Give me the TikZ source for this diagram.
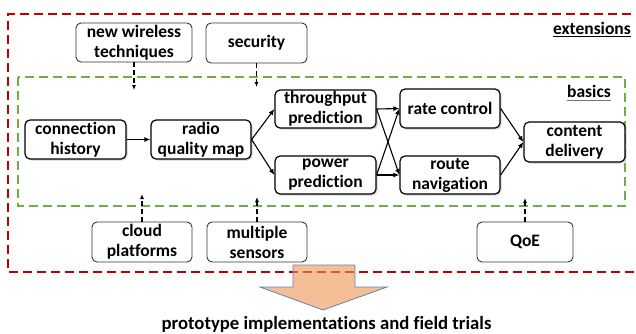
\documentclass[tikz,border=0pt]{standalone}
\usepackage{fontspec}
\setmainfont{Carlito}[Ligatures=NoCommon]
\usetikzlibrary{arrows.meta,shadows,calc}
\definecolor{extred}{HTML}{C00000}
\definecolor{basegreen}{HTML}{70AD47}
\definecolor{peach}{RGB}{237,147,80}
\definecolor{arrowblue}{HTML}{5B86B8}

\begin{document}
\begin{tikzpicture}[x=1pt,y=-1pt,
  font=\fontsize{17.5}{20}\selectfont\bfseries,
  box/.style={draw, rounded corners=5pt, align=center, inner sep=0pt},
  basebox/.style={box, draw=black, line width=1.2pt, fill=white,
    drop shadow={opacity=0.35, shadow xshift=1.5pt, shadow yshift=-1.5pt}},
  extbox/.style={box, draw=black!80, line width=0.9pt, fill=white},
  flow/.style={-{Latex[length=6pt,width=5pt]}, line width=1.1pt},
  feed/.style={-{Latex[length=5pt,width=4pt]}, line width=1.1pt, dash pattern=on 5pt off 3pt},
  frame/.style={line width=2pt, dash pattern=on 9pt off 5pt}]

\useasboundingbox (0,0) rectangle (636,333);

% outer "extensions" frame (open on the right) and inner "basics" frame
\draw[frame, extred] (645,14) -- (8,14) -- (8,272) -- (645,272);
\draw[frame, basegreen] (18,77) rectangle (625,206);

% big arrow towards the trials
\draw[arrowblue, line width=0.8pt, fill=peach, fill opacity=0.6]
  (293,265) -- (355,265) -- (355,287) -- (387,287) -- (323,310)
  -- (260,287) -- (293,287) -- cycle;

% basic pipeline
\node[basebox, minimum width=101pt, minimum height=39pt] (ch) at (75.5,139.5) {connection\\history};
\node[basebox, minimum width=100pt, minimum height=39pt] (rq) at (201,139.5) {radio\\quality map};
\node[basebox, minimum width=101pt, minimum height=38pt] (tp) at (325.5,109) {throughput\\prediction};
\node[basebox, minimum width=101pt, minimum height=38pt] (pp) at (325.5,175) {power\\prediction};
\node[basebox, minimum width=100pt, minimum height=39pt] (rc) at (450,108.5) {rate control};
\node[basebox, minimum width=100pt, minimum height=38pt] (rn) at (450,175) {route\\navigation};
\node[basebox, minimum width=101pt, minimum height=40pt] (cd) at (574.5,142) {content\\delivery};

% extensions
\node[extbox, minimum width=116pt, minimum height=39pt] (nw) at (134,42.5) {new wireless\\techniques};
\node[extbox, minimum width=101pt, minimum height=40pt] (sec) at (256.5,43) {security};
\node[extbox, minimum width=100pt, minimum height=40pt] (cp) at (142,242) {cloud\\platforms};
\node[extbox, minimum width=100pt, minimum height=40pt] (ms) at (257,242) {multiple\\sensors};
\node[extbox, minimum width=96pt, minimum height=40pt] (qoe) at (525,242) {QoE};

% pipeline connectors
\draw[flow] (ch) -- (rq);
\draw[flow] (rq.east) -- (tp.west);
\draw[flow] (rq.east) -- (pp.west);
\draw[flow] (tp.east) -- (rc.west);
\draw[flow] (tp.east) -- (rn.west);
\draw[flow] (pp.east) -- (rc.west);
\draw[flow] (pp.east) -- (rn.west);
\draw[flow] (rc.east) -- (cd.west);
\draw[flow] (rn.east) -- (cd.west);

% extension feeds into the basics
\coordinate (nwend) at (134,90);
\coordinate (secend) at (256.5,87);
\coordinate (cpend) at (142,194);
\coordinate (msend) at (257,197);
\coordinate (qoeend) at (525,198);
\draw[feed] (nw) -- (nwend);
\draw[feed] (sec) -- (secend);
\draw[feed] (cp) -- (cpend);
\draw[feed] (ms) -- (msend);
\draw[feed] (qoe) -- (qoeend);

% frame titles
\node[anchor=base east, inner sep=0pt] (extlabel) at (631,34) {extensions};
\draw[line width=1pt] ($(extlabel.base west)+(0,2.5)$) -- ($(extlabel.base east)+(0,2.5)$);
\node[anchor=base east, inner sep=0pt] (baselabel) at (611,97.5) {basics};
\draw[line width=1pt, black!55] ($(baselabel.base west)+(0,2.5)$) -- ($(baselabel.base east)+(0,2.5)$);

% outcome
\node[anchor=base, inner sep=0pt, font=\fontsize{18.7}{22}\selectfont\bfseries] (trials) at (326.5,329)
  {prototype implementations and field trials};
\end{tikzpicture}
\end{document}
